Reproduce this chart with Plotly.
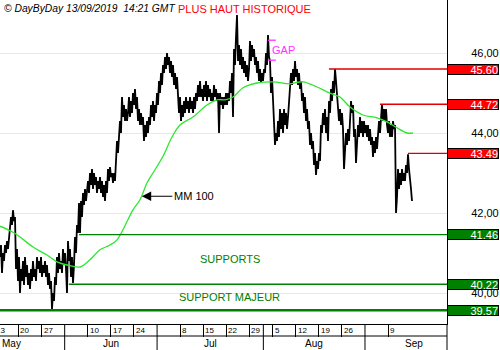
import plotly.graph_objects as go

# ---------------- data ----------------
samples_per_day = 4.62  # price samples per trading day

price = [
    40.9, 41.2, 40.5, 41.0, 40.8, 41.2, 41.0, 41.3, 41.1, 41.4,
    41.6, 41.9, 41.7, 42.07, 41.8, 41.9, 40.6, 41.1, 40.3, 40.9,
    40.0, 40.6, 40.3, 40.8, 40.2, 40.9, 40.4, 40.7, 40.2, 40.5,
    40.1, 40.6, 40.3, 40.8, 40.4, 40.6, 40.3, 40.9, 40.6, 40.8,
    40.5, 40.9, 40.4, 40.7, 40.5, 40.8, 40.4, 40.7, 40.2, 40.5,
    40.1, 40.3, 39.6, 40.0, 39.8, 40.4, 40.2, 40.9, 40.5, 41.0,
    40.6, 40.8, 40.5, 41.1, 40.7, 41.0, 40.6, 40.0, 41.3, 40.8,
    41.1, 40.4, 40.9, 40.25, 40.7, 41.4, 41.0, 41.7, 41.5, 42.25,
    41.5, 42.3, 41.9, 42.5, 42.2, 42.6, 42.3, 42.5, 42.8, 42.5,
    43.0, 42.7, 43.1, 42.6, 43.0, 42.7, 42.9, 42.5, 42.8, 42.6,
    42.9, 42.5, 42.8, 42.4, 42.7, 42.3, 42.8, 42.5, 43.1, 42.8,
    43.15, 42.9, 43.0, 42.75, 43.0, 42.8, 43.3, 43.8, 43.5, 44.1,
    44.3, 44.0, 44.9, 44.4, 44.7, 44.3, 44.6, 44.3, 44.5, 44.9,
    44.4, 44.8, 44.5, 45.0, 44.7, 45.1, 44.6, 44.9, 44.3, 44.6,
    44.2, 44.5, 44.2, 44.4, 43.8, 44.2, 43.9, 44.3, 44.0, 44.4,
    44.2, 44.7, 44.4, 44.8, 44.3, 44.7, 44.5, 45.0, 44.7, 45.3,
    45.0, 45.5, 45.2, 45.7, 45.5, 45.9, 45.6, 46.0, 45.7, 45.9,
    45.5, 45.8, 45.4, 45.7, 45.2, 45.5, 45.1, 45.4, 45.0, 44.5,
    44.9, 44.3, 44.7, 44.4, 44.8, 44.5, 44.9, 44.6, 44.8, 44.5,
    44.9, 44.6, 44.8, 44.5, 44.9, 44.6, 45.0, 44.8, 45.2, 44.9,
    45.3, 44.9, 45.1, 44.8, 45.2, 44.9, 45.3, 44.8, 45.2, 44.9,
    45.1, 44.8, 45.0, 44.8, 45.2, 44.9, 45.1, 44.8, 45.0, 44.0,
    45.0, 44.7, 44.9, 44.6, 44.9, 44.7, 45.0, 44.7, 45.0, 44.8,
    45.3, 45.0, 45.5, 44.4, 46.1, 45.7, 46.4, 46.95, 45.8, 46.2,
    45.7, 46.1, 45.6, 45.9, 45.5, 45.8, 45.4, 45.7, 45.3, 45.6,
    46.3, 45.8, 46.2, 45.9, 46.1, 45.7, 45.9, 45.5, 45.8, 45.3,
    45.6, 45.25, 45.5, 45.3, 45.6, 45.5, 46.0, 45.7, 46.45, 45.9,
    45.8, 45.0, 45.4, 44.8, 44.4, 43.7, 44.0, 43.8, 44.3, 43.9,
    44.6, 44.1, 44.5, 44.0, 44.6, 44.2, 44.5, 44.1, 44.4, 44.8,
    45.2, 45.5, 45.2, 45.6, 45.3, 45.8, 45.4, 45.6, 45.2, 45.5,
    45.1, 45.3, 44.8, 45.0, 44.5, 44.9, 44.3, 44.6, 44.1, 44.3,
    43.7, 44.0, 43.6, 43.8, 43.2, 43.5, 42.95, 43.3, 43.1, 43.5,
    43.3, 44.2, 44.0, 44.5, 44.2, 44.6, 44.0, 44.4, 43.8, 44.8,
    44.5, 45.1, 44.8, 45.3, 45.0, 45.6, 45.3, 45.0, 44.6, 44.3,
    44.6, 44.2, 44.5, 44.1, 43.1, 43.6, 44.0, 43.7, 44.1, 43.8,
    44.3, 44.8, 44.5, 44.7, 43.9, 44.1, 43.25, 43.8, 44.2, 43.9,
    44.4, 44.0, 44.3, 43.9, 44.3, 44.0, 44.2, 43.9, 44.2, 43.8,
    44.1, 43.7, 43.9, 43.4, 43.8, 43.5, 43.9, 43.6, 44.1, 44.3,
    44.0, 44.4, 44.72, 44.3, 44.6, 44.3, 44.6, 44.2, 44.0, 44.3,
    43.9, 44.2, 43.9, 44.3, 44.1, 44.2, 42.0, 42.4, 43.1, 42.6,
    43.0, 42.7, 43.1, 42.8, 43.0, 42.8, 43.2, 43.0, 43.47, 43.1,
    42.9, 42.6, 42.3,
]

# 100-period moving average (sample index, value)
ma_sample = [0, 13, 20, 33, 47, 57, 67, 80, 90, 100, 110, 117, 133, 140, 147, 153,
             163, 172, 180, 193, 207, 217, 225, 233, 243, 257, 273, 290, 303, 317,
             327, 335, 340, 350, 363, 377, 387, 397, 407, 413]
ma_value = [41.67, 41.52, 41.4, 41.15, 40.95, 40.78, 40.7, 40.65, 40.83, 41.08, 41.2,
            41.33, 42.08, 42.33, 42.75, 43.0, 43.42, 43.9, 44.2, 44.4, 44.7, 44.83,
            44.83, 44.9, 45.13, 45.25, 45.28, 45.23, 45.28, 45.15, 45.03, 44.95, 44.9,
            44.65, 44.45, 44.38, 44.28, 44.13, 44.0, 44.0]

# resistance / support levels (value, first trading day of the line)
res_levels = [45.60, 44.72, 43.49]
res_start_day = [71.2, 82.25, 88.3]
sup_levels = [41.46, 40.22, 39.57]
sup_start_day = [17.1, 14.9, 0.0]

# x axis: trading-day index (0 = 14 May 2019)
week_days = [-1, 4, 9, 19, 24, 29, 39, 44, 49, 54, 59, 64, 69, 74, 84]
week_labels = ["13", "20", "27", "10", "17", "24", "8", "15", "22", "29", "5", "12", "19", "26", "9"]
month_start_day = [-9, 14, 34, 57, 79, 100]
month_labels = ["May", "Jun", "Jul", "Aug", "Sep"]
x_end = 96.75

y_ticks = [40, 42, 44, 46]

gap_top, gap_bottom = 46.32, 45.82
gap_day = [58.0, 59.7]

# ---------------- figure ----------------
FONT = "Liberation Sans, Arial, sans-serif"
RED = "#ff0000"
DGREEN = "#008000"
fig = go.Figure()

price_x = [i / samples_per_day for i in range(len(price))]
ma_x = [s / samples_per_day for s in ma_sample]

fig.add_trace(go.Scatter(x=price_x, y=price, mode="lines",
                         line=dict(color="black", width=1.8), hoverinfo="skip"))
fig.add_trace(go.Scatter(x=ma_x, y=ma_value, mode="lines", line_shape="spline",
                         line=dict(color="#2ee62e", width=1.3), hoverinfo="skip"))

for lv, st in zip(res_levels, res_start_day):
    fig.add_trace(go.Scatter(x=[st, x_end], y=[lv, lv], mode="lines",
                             line=dict(color="#e00000", width=1.4), hoverinfo="skip"))
for lv, st in zip(sup_levels, sup_start_day):
    w = 2.6 if lv == min(sup_levels) else 1.4
    fig.add_trace(go.Scatter(x=[st, x_end], y=[lv, lv], mode="lines",
                             line=dict(color=DGREEN, width=w), hoverinfo="skip"))

annotations = []
# level value boxes
for lv in res_levels:
    annotations.append(dict(xref="paper", x=1, xanchor="left", yref="y", y=lv, yanchor="middle",
                            text=f"{lv:.2f}", showarrow=False, bgcolor=RED, bordercolor="black",
                            borderwidth=1, borderpad=0, width=50, height=9, align="right",
                            font=dict(family=FONT, size=11, color="white")))
for lv in sup_levels:
    annotations.append(dict(xref="paper", x=1, xanchor="left", yref="y", y=lv, yanchor="middle",
                            text=f"{lv:.2f}", showarrow=False, bgcolor=DGREEN, bordercolor="black",
                            borderwidth=1, borderpad=0, width=50, height=9, align="right",
                            font=dict(family=FONT, size=11, color="white")))

# week labels
for d, t in zip(week_days, week_labels):
    if d < 0:
        annotations.append(dict(xref="paper", x=0, xanchor="left", xshift=-6, yref="paper", y=0,
                                yanchor="middle", yshift=-6, text=t, showarrow=False,
                                font=dict(family=FONT, size=8, color="black")))
    else:
        annotations.append(dict(xref="x", x=d, xanchor="left", xshift=0, yref="paper", y=0,
                                yanchor="middle", yshift=-6, text=t, showarrow=False,
                                font=dict(family=FONT, size=8, color="black")))
# month labels
for i, m in enumerate(month_labels):
    c = (month_start_day[i] + month_start_day[i + 1]) / 2
    annotations.append(dict(xref="x", x=c, xanchor="center", yref="paper", y=0,
                            yanchor="middle", yshift=-19, text=m, showarrow=False,
                            font=dict(family=FONT, size=10, color="black")))

# texts
annotations += [
    dict(xref="paper", x=0, xanchor="left", xshift=2, yref="paper", y=1, yanchor="middle",
         yshift=-8, text="<i>© DayByDay 13/09/2019  14:21 GMT</i>", showarrow=False,
         font=dict(family=FONT, size=10.3, color="black")),
    dict(x=52.9, y=47.1, text="PLUS HAUT HISTORIQUE", showarrow=False,
         font=dict(family=FONT, size=11, color=RED)),
    dict(x=61.4, y=46.07, text="GAP", showarrow=False,
         font=dict(family=FONT, size=11, color="#ff33ff")),
    dict(x=30.7, y=42.42, text="MM 100", showarrow=True, ax=52, ay=0,
         arrowhead=2, arrowsize=1.7, arrowwidth=1.1, arrowcolor="black", standoff=0,
         font=dict(family=FONT, size=11, color="black")),
    dict(x=49.7, y=40.85, text="SUPPORTS", showarrow=False,
         font=dict(family=FONT, size=11, color=DGREEN)),
    dict(x=49.7, y=39.9, text="SUPPORT MAJEUR", showarrow=False,
         font=dict(family=FONT, size=11, color=DGREEN)),
]

shapes = []
plot_h = 324
# row separator under week labels
shapes.append(dict(type="line", xref="paper", x0=0, x1=1, yref="paper", y0=-12 / plot_h, y1=-12 / plot_h,
                   line=dict(color="black", width=1)))
# month separators
for d in month_start_day:
    if 0 < d < x_end:
        shapes.append(dict(type="line", xref="x", x0=d, x1=d, yref="paper", y0=0, y1=-26 / plot_h,
                           line=dict(color="black", width=1)))
# axis line extension
shapes.append(dict(type="line", xref="paper", x0=1, x1=1, yref="paper", y0=0, y1=-26 / plot_h,
                   line=dict(color="black", width=1)))
# gap bracket
gap_col = "#ff33ff"
shapes += [
    dict(type="line", xref="x", yref="y", x0=gap_day[0], x1=gap_day[1], y0=gap_top, y1=gap_top,
         line=dict(color=gap_col, width=1.3)),
    dict(type="line", xref="x", yref="y", x0=gap_day[0], x1=gap_day[1], y0=gap_bottom, y1=gap_bottom,
         line=dict(color=gap_col, width=1.3)),
]

fig.update_layout(
    width=500, height=350,
    margin=dict(l=0, r=53, t=0, b=26, pad=0),
    paper_bgcolor="white", plot_bgcolor="white",
    showlegend=False,
    separators=", ",
    font=dict(family=FONT, size=11, color="black"),
    annotations=annotations,
    shapes=shapes,
    xaxis=dict(range=[0, x_end], showgrid=False, zeroline=False, showline=True,
               linecolor="black", linewidth=1, tickvals=week_days, ticks="outside",
               ticklen=12, tickcolor="black", tickwidth=1, showticklabels=False,
               fixedrange=True),
    yaxis=dict(range=[39.225, 47.325], side="right", tickvals=y_ticks, tickformat=".2f",
               showgrid=True, gridcolor="#e0f0d8", gridwidth=1, zeroline=False,
               showline=True, linecolor="black", linewidth=1, ticks="",
               ticklabelstandoff=21, tickfont=dict(family=FONT, size=11, color="black"),
               fixedrange=True),
)

fig.write_html("out.html")
